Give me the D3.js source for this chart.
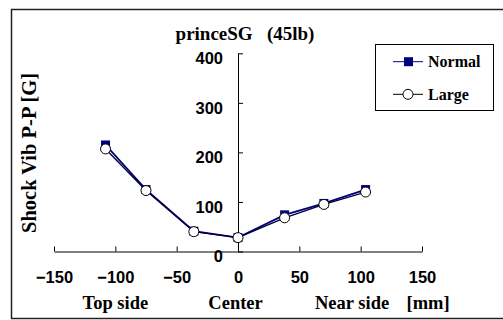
<!DOCTYPE html>
<html>
<head>
<meta charset="utf-8">
<script src="https://cdn.jsdelivr.net/npm/d3@7"></script>
<style>
  body { margin: 0; background: #fff; }
  .tick text { font-family: "Liberation Sans", Arial, sans-serif; font-weight: bold; font-size: 16.5px; fill: #000; }
  .serif { font-family: "Liberation Serif", "Times New Roman", serif; font-weight: bold; fill: #000; }
</style>
</head>
<body>
<script>
// chart values
var positions = [-108, -75, -36, 0, 38, 70, 104];
var normalVib = [215, 125, 41, 28, 74, 97, 125];
var largeVib = [207, 123, 40, 28, 68, 95, 120];
var xTicks = [-150, -100, -50, 0, 50, 100, 150];
var yTicks = [0, 100, 200, 300, 400];
var seriesNames = ["Normal", "Large"];
var sideLabels = ["Top side", "Center", "Near side", "[mm]"];
var sidePos = [-100, -2, 93, 155];

var w = 503, h = 320;

var svg = d3.select("body").append("svg")
    .attr("width", w)
    .attr("height", h);

// outer frame (right edge runs off the picture)
svg.append("rect")
    .attr("x", 11.5).attr("y", 9.5)
    .attr("width", 520).attr("height", 309)
    .style("fill", "#fff")
    .style("stroke", "#222")
    .style("stroke-width", 1.5);

var x = d3.scaleLinear().domain([-150, 150]).range([54, 422]);
var y = d3.scaleLinear().domain([0, 400]).range([251.5, 53.3]);

// x axis, ticks pointing up
var xAxis = svg.append("g")
    .attr("transform", "translate(0," + y(0) + ")")
    .call(d3.axisBottom(x).tickValues(xTicks).tickSize(-5).tickPadding(20).tickSizeOuter(0));
xAxis.selectAll("text").attr("y", 31.5).attr("dy", 0);

// y axis at x=0, ticks pointing right
var yAxis = svg.append("g")
    .attr("transform", "translate(" + x(0) + ",0)")
    .call(d3.axisLeft(y).tickValues(yTicks).tickSize(-5).tickPadding(15).tickSizeOuter(0));
yAxis.selectAll("text").attr("dy", "0.62em");

svg.selectAll(".domain, .tick line").style("stroke", "#000").style("stroke-width", 1);

// lines
var line = function(vals){
    return d3.line()
        .x(function(d, i){ return x(positions[i]); })
        .y(function(d){ return y(d); })(vals);
};

svg.append("path")
    .attr("d", line(normalVib))
    .style("fill", "none")
    .style("stroke", "#000080")
    .style("stroke-width", 1.8);

svg.append("path")
    .attr("d", line(largeVib))
    .style("fill", "none")
    .style("stroke", "#000033")
    .style("stroke-width", 1.3);

svg.selectAll(".sq")
    .data(normalVib)
    .enter()
    .append("rect")
    .attr("class", "sq")
    .attr("x", function(d, i){ return x(positions[i]) - 4.5; })
    .attr("y", function(d){ return y(d) - 4.5; })
    .attr("width", 9).attr("height", 9)
    .style("fill", "#000080");

svg.selectAll(".ci")
    .data(largeVib)
    .enter()
    .append("circle")
    .attr("class", "ci")
    .attr("cx", function(d, i){ return x(positions[i]); })
    .attr("cy", function(d){ return y(d); })
    .attr("r", 5)
    .style("fill", "#fff")
    .style("stroke", "#000")
    .style("stroke-width", 1);

// title
svg.append("text")
    .attr("class", "serif")
    .attr("x", 245).attr("y", 40)
    .attr("text-anchor", "middle")
    .style("font-size", "19px")
    .style("white-space", "pre")
    .text("princeSG   (45lb)");

// y axis title
svg.append("text")
    .attr("class", "serif")
    .attr("transform", "translate(36,153) rotate(-90)")
    .attr("text-anchor", "middle")
    .style("font-size", "20.5px")
    .text("Shock Vib P-P [G]");

// side labels under the x axis
svg.selectAll(".side")
    .data(sideLabels)
    .enter()
    .append("text")
    .attr("class", "serif side")
    .attr("x", function(d, i){ return x(sidePos[i]); })
    .attr("y", 309)
    .attr("text-anchor", "middle")
    .style("font-size", "18.5px")
    .text(function(d){ return d; });

// legend
var legend = svg.append("g");
legend.append("rect")
    .attr("x", 375.5).attr("y", 44.5)
    .attr("width", 118).attr("height", 66)
    .style("fill", "#fff")
    .style("stroke", "#000")
    .style("stroke-width", 1);

var ly = [61.7, 94.3];
legend.selectAll(".lline")
    .data(seriesNames)
    .enter()
    .append("line")
    .attr("x1", 393).attr("x2", 423)
    .attr("y1", function(d, i){ return ly[i]; })
    .attr("y2", function(d, i){ return ly[i]; })
    .style("stroke", function(d, i){ return i === 0 ? "#000080" : "#000"; })
    .style("stroke-width", 1);

legend.append("rect")
    .attr("x", 404).attr("y", ly[0] - 4.5)
    .attr("width", 9).attr("height", 9)
    .style("fill", "#000080");

legend.append("circle")
    .attr("cx", 408).attr("cy", ly[1]).attr("r", 5)
    .style("fill", "#fff").style("stroke", "#000");

legend.selectAll(".ltext")
    .data(seriesNames)
    .enter()
    .append("text")
    .attr("class", "serif")
    .attr("x", 428)
    .attr("y", function(d, i){ return ly[i] + 5.5; })
    .style("font-size", "16px")
    .text(function(d){ return d; });
</script>
</body>
</html>
